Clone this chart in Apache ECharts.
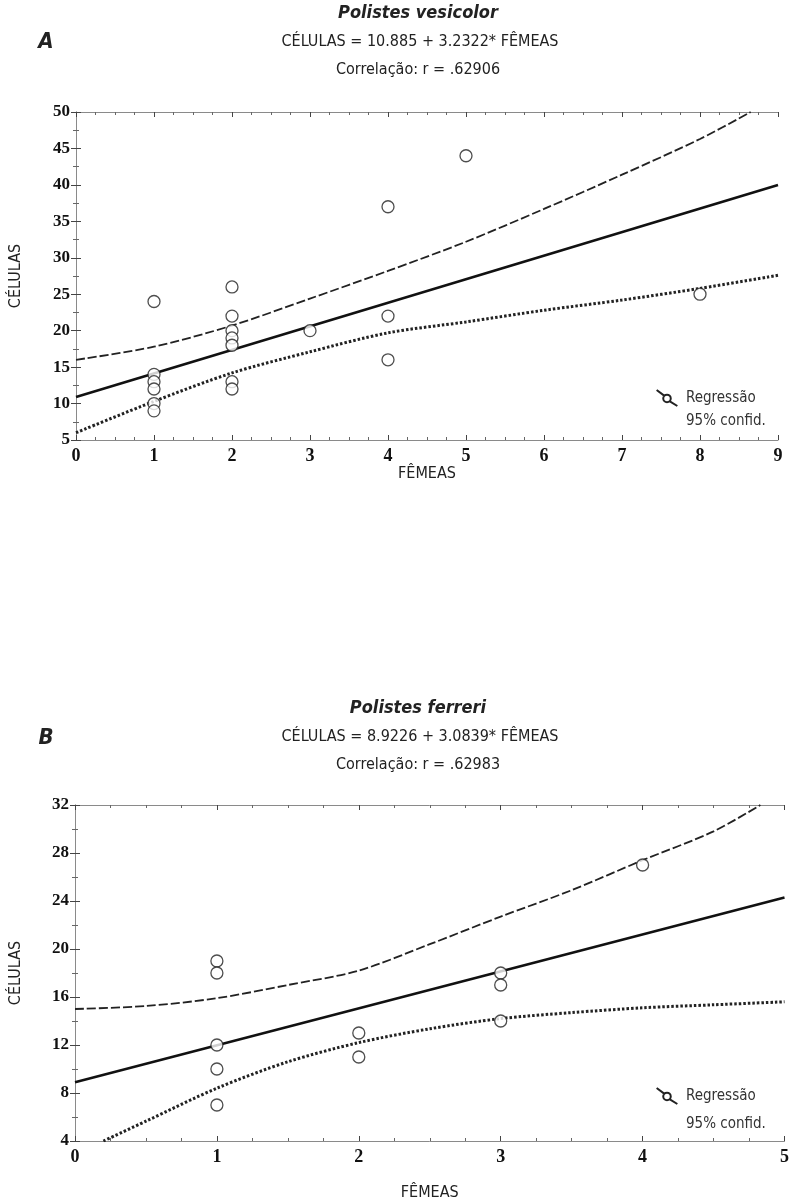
<!DOCTYPE html>
<html>
<head>
<meta charset="utf-8">
<script src="https://cdn.jsdelivr.net/npm/echarts@6/dist/echarts.min.js"></script>
<style>html,body{margin:0;padding:0;background:#fff}#c{width:792px;height:1202px}</style>
</head>
<body>
<div id="c"></div>
<script>
// ---- Panel A: Polistes vesicolor ----
const femeasA  = [1,1,1,1,1,1,2,2,2,2,2,2,2,3,4,4,4,5,8];
const celulasA = [24,14,13,12,10,9,26,22,20,19,18,13,12,20,37,22,16,44,25];
const regAx = [0, 9];
const regAy = [10.9, 40.0];
const upperAx = [0,1,2,3,4,5,6,7,8,8.65];
const upperAy = [16.0,17.8,20.7,24.4,28.2,32.2,36.7,41.4,46.3,50];
const lowerAx = [0,1,2,3,4,5,6,7,8,9];
const lowerAy = [6.0,10.3,14.2,17.1,19.7,21.2,22.8,24.2,25.8,27.6];
const xTicksA = [0,1,2,3,4,5,6,7,8,9];
const yTicksA = [5,10,15,20,25,30,35,40,45,50];

// ---- Panel B: Polistes ferreri ----
const femeasB  = [1,1,1,1,1,2,2,3,3,3,4];
const celulasB = [19,18,12,10,7,13,11,18,17,14,27];
const regBx = [0, 5];
const regBy = [8.9, 24.3];
const upperBx = [0,0.5,1,1.5,2,2.5,3,3.5,4,4.5,4.83];
const upperBy = [15.0,15.25,15.9,17.0,18.2,20.4,22.7,24.9,27.4,29.8,32];
const lowerBx = [0.2,0.5,1,1.5,2,2.5,3,3.5,4,4.5,5];
const lowerBy = [4,5.65,8.4,10.6,12.2,13.35,14.2,14.7,15.1,15.35,15.6];
const xTicksB = [0,1,2,3,4,5];
const yTicksB = [4,8,12,16,20,24,28,32];

const zip = (xs, ys) => xs.map((x, i) => [x, ys[i]]);

const narrow = "'Liberation Sans Narrow','DejaVu Sans Condensed',sans-serif";
const serif = "'Liberation Serif','DejaVu Serif',serif";
const frame = '#8a8a8a';

function xAx(grid, ticks, pos, labels, name, gap) {
  return {
    type: 'value', gridIndex: grid, position: pos,
    min: ticks[0], max: ticks[ticks.length-1], interval: ticks[1]-ticks[0],
    axisLine: {show: true, lineStyle: {color: frame, width: 1}},
    axisTick: {show: true, inside: true, length: 5, lineStyle: {color: '#444'}},
    minorTick: {show: true, splitNumber: 4, length: 3, lineStyle: {color: '#666'}},
    splitLine: {show: false},
    axisLabel: {show: labels, color: '#111', fontFamily: serif, fontWeight: 'bold', fontSize: 18, margin: 7},
    name: name, nameLocation: 'middle', nameGap: gap,
    nameTextStyle: {fontFamily: narrow, fontSize: 16, color: '#222'}
  };
}
function yAx(grid, ticks, pos, labels, name, gap) {
  return {
    type: 'value', gridIndex: grid, position: pos,
    min: ticks[0], max: ticks[ticks.length-1], interval: ticks[1]-ticks[0],
    axisLine: {show: true, lineStyle: {color: frame, width: 1}},
    axisTick: {show: true, inside: true, length: 5, lineStyle: {color: '#444'}},
    minorTick: {show: true, splitNumber: 2, length: 3, lineStyle: {color: '#666'}},
    splitLine: {show: false},
    axisLabel: {show: labels, color: '#111', fontFamily: serif, fontWeight: 'bold', fontSize: 17, margin: 6},
    name: name, nameLocation: 'middle', nameGap: gap, nameRotate: 90,
    nameTextStyle: {fontFamily: narrow, fontSize: 16, color: '#222'}
  };
}

const ptStyle = {color: '#fff', borderColor: '#222', borderWidth: 1.3};

function panelSeries(xi, yi, fx, cy, rx, ry, ux, uy, lx, ly) {
  return [
    {name: 'Regressão', type: 'line', xAxisIndex: xi, yAxisIndex: yi, data: zip(rx, ry),
     showSymbol: false, lineStyle: {color: '#111', width: 2.6}, z: 3},
    {name: '95% confid.', type: 'line', xAxisIndex: xi, yAxisIndex: yi, data: zip(ux, uy),
     showSymbol: false, smooth: 0.3, lineStyle: {color: '#222', width: 1.8, type: [9, 3]}, z: 3},
    {name: '95% confid.', type: 'line', xAxisIndex: xi, yAxisIndex: yi, data: zip(lx, ly),
     showSymbol: false, smooth: 0.3, lineStyle: {color: '#222', width: 3, type: [2.5, 2]}, z: 3},
    {name: 'Regressão', type: 'scatter', xAxisIndex: xi, yAxisIndex: yi, data: zip(fx, cy),
     symbol: 'circle', symbolSize: 12, itemStyle: ptStyle, z: 5}
  ];
}

const legendIcon = 'path://M0,0 L8,6 M14,12 L22,17 M15,9 A4,4 0 1,1 7,9 A4,4 0 1,1 15,9';
function legendFor(top, gap) {
  return {
    left: 648, top: top, orient: 'vertical', itemGap: gap, itemWidth: 28, itemHeight: 16,
    selectedMode: false,
    textStyle: {fontFamily: narrow, fontSize: 15, color: '#333'},
    data: [
      {name: 'Regressão', icon: legendIcon, itemStyle: {color: 'rgba(0,0,0,0)', borderColor: '#222', borderWidth: 2}},
      {name: '95% confid.', icon: 'rect', itemStyle: {opacity: 0}}
    ]
  };
}

function txt(x, y, text, size, style, weight) {
  return {type: 'text', x: x, y: y, style: {text: text, fontFamily: narrow, fontSize: size,
    fontStyle: style || 'normal', fontWeight: weight || 'normal', fill: '#222', align: 'center', verticalAlign: 'middle'}};
}

const chart = echarts.init(document.getElementById('c'), null, {renderer: 'canvas'});
chart.setOption({
  backgroundColor: '#fff',
  animation: false,
  grid: [
    {left: 72, top: 112, width: 706, height: 328},
    {left: 71, top: 805, width: 717, height: 342}
  ],
  xAxis: [
    xAx(0, xTicksA, 'bottom', true, 'FÊMEAS', 23),
    xAx(0, xTicksA, 'top', false, '', 0),
    xAx(1, xTicksB, 'bottom', true, 'FÊMEAS', 44),
    xAx(1, xTicksB, 'top', false, '', 0)
  ],
  yAxis: [
    yAx(0, yTicksA, 'left', true, 'CÉLULAS', 52),
    yAx(0, yTicksA, 'right', false, '', 0),
    yAx(1, yTicksB, 'left', true, 'CÉLULAS', 51),
    yAx(1, yTicksB, 'right', false, '', 0)
  ],
  legend: [legendFor(384, 6), legendFor(1082, 11)],
  series: [].concat(
    panelSeries(0, 0, femeasA, celulasA, regAx, regAy, upperAx, upperAy, lowerAx, lowerAy),
    panelSeries(2, 2, femeasB, celulasB, regBx, regBy, upperBx, upperBy, lowerBx, lowerBy)
  ),
  graphic: [
    txt(46, 42, 'A', 22, 'italic', 'bold'),
    txt(418, 13, 'Polistes vesicolor', 18, 'italic', 'bold'),
    txt(420, 42, 'CÉLULAS = 10.885 + 3.2322* FÊMEAS', 16),
    txt(418, 70, 'Correlação: r = .62906', 16),
    txt(46, 738, 'B', 22, 'italic', 'bold'),
    txt(418, 708, 'Polistes ferreri', 18, 'italic', 'bold'),
    txt(420, 737, 'CÉLULAS = 8.9226 + 3.0839* FÊMEAS', 16),
    txt(418, 765, 'Correlação: r = .62983', 16)
  ]
});
</script>
</body>
</html>
